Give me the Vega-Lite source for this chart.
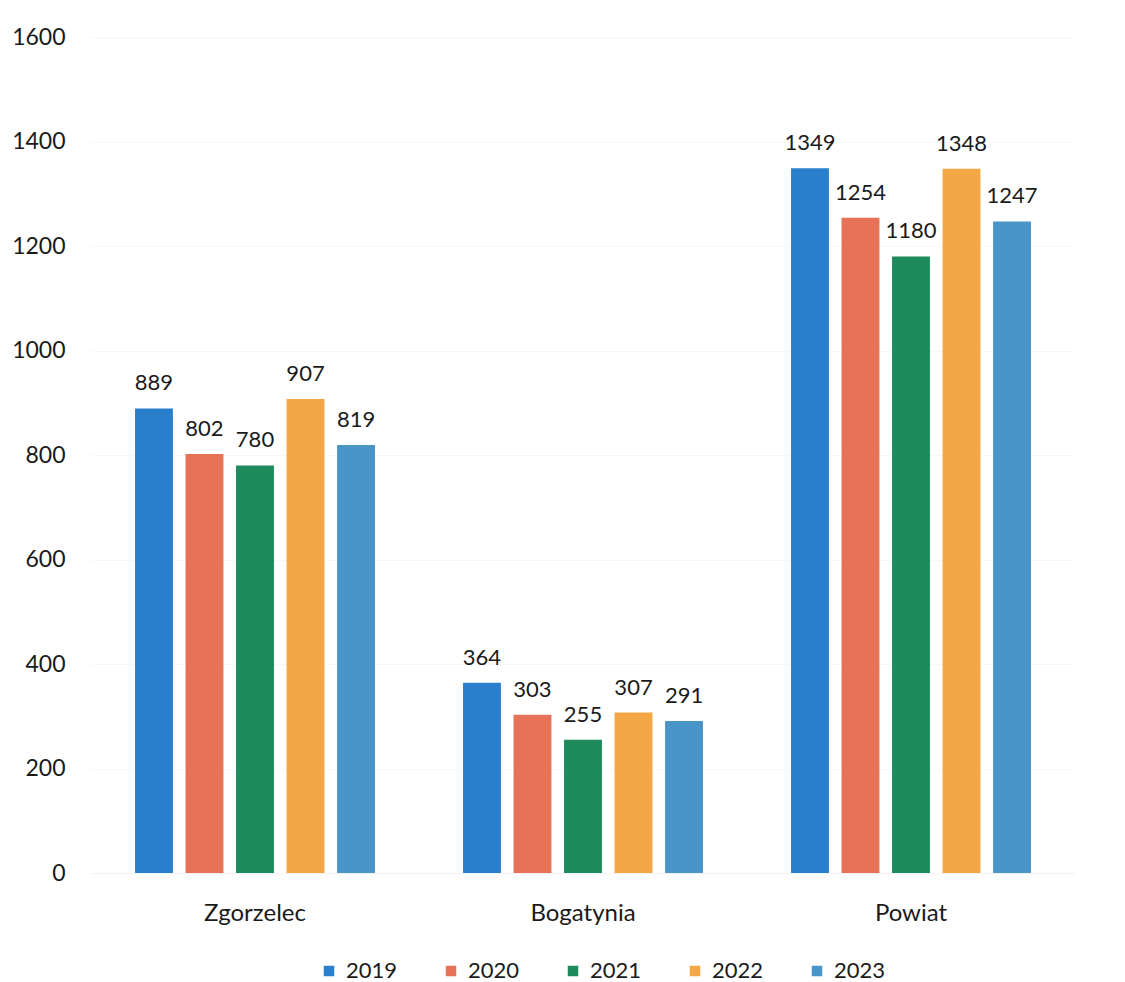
{
  "$schema": "https://vega.github.io/schema/vega-lite/v6.json",
  "width": 984,
  "height": 836,
  "autosize": {"type": "none"},
  "padding": {"left": 91, "top": 37, "right": 50, "bottom": 109},
  "background": "white",
  "config": {
    "view": {"stroke": null},
    "font": "Lato",
    "text": {"font": "Lato"}
  },
  "data": {
    "values": [
      {"place": "Zgorzelec", "year": "2019", "value": 889},
      {"place": "Zgorzelec", "year": "2020", "value": 802},
      {"place": "Zgorzelec", "year": "2021", "value": 780},
      {"place": "Zgorzelec", "year": "2022", "value": 907},
      {"place": "Zgorzelec", "year": "2023", "value": 819},
      {"place": "Bogatynia", "year": "2019", "value": 364},
      {"place": "Bogatynia", "year": "2020", "value": 303},
      {"place": "Bogatynia", "year": "2021", "value": 255},
      {"place": "Bogatynia", "year": "2022", "value": 307},
      {"place": "Bogatynia", "year": "2023", "value": 291},
      {"place": "Powiat", "year": "2019", "value": 1349},
      {"place": "Powiat", "year": "2020", "value": 1254},
      {"place": "Powiat", "year": "2021", "value": 1180},
      {"place": "Powiat", "year": "2022", "value": 1348},
      {"place": "Powiat", "year": "2023", "value": 1247}
    ]
  },
  "encoding": {
    "x": {
      "field": "place", "type": "nominal", "sort": ["Zgorzelec", "Bogatynia", "Powiat"],
      "scale": {"paddingInner": 0.23, "paddingOuter": 0.115},
      "axis": {"title": null, "labelAngle": 0, "labelFontSize": 24, "labelColor": "#1a1a1a", "labelPadding": 28, "ticks": false, "domain": true, "domainColor": "#f2f2f2", "labelFont": "Lato"}
    },
    "xOffset": {
      "field": "year", "type": "nominal",
      "scale": {"paddingInner": 0.25, "paddingOuter": 0.125}
    },
    "y": {
      "field": "value", "type": "quantitative",
      "scale": {"domain": [0, 1600], "nice": false},
      "axis": {"title": null, "format": "d", "values": [0, 200, 400, 600, 800, 1000, 1200, 1400, 1600], "labelFontSize": 23, "labelColor": "#1a1a1a", "labelPadding": 26, "ticks": false, "domain": false, "gridColor": "#f7f7f7", "labelFont": "Lato"}
    }
  },
  "layer": [
    {
      "mark": {"type": "bar"},
      "encoding": {
        "color": {
          "field": "year", "type": "nominal",
          "scale": {"domain": ["2019", "2020", "2021", "2022", "2023"], "range": ["#2a7fcc", "#e87258", "#1f8a5c", "#f4a845", "#4a95c8"]},
          "legend": {"title": null, "orient": "none", "legendX": 227, "legendY": 923, "direction": "horizontal", "symbolType": "square", "symbolSize": 110, "symbolStrokeWidth": 0, "labelFontSize": 22, "labelColor": "#1a1a1a", "labelFont": "Lato", "columnPadding": 42, "labelOffset": 6}
        }
      }
    },
    {
      "mark": {"type": "text", "baseline": "alphabetic", "dy": -18, "fontSize": 22, "color": "#1a1a1a", "font": "Lato"},
      "encoding": {
        "text": {"field": "value", "type": "quantitative", "format": "d"}
      }
    }
  ]
}
